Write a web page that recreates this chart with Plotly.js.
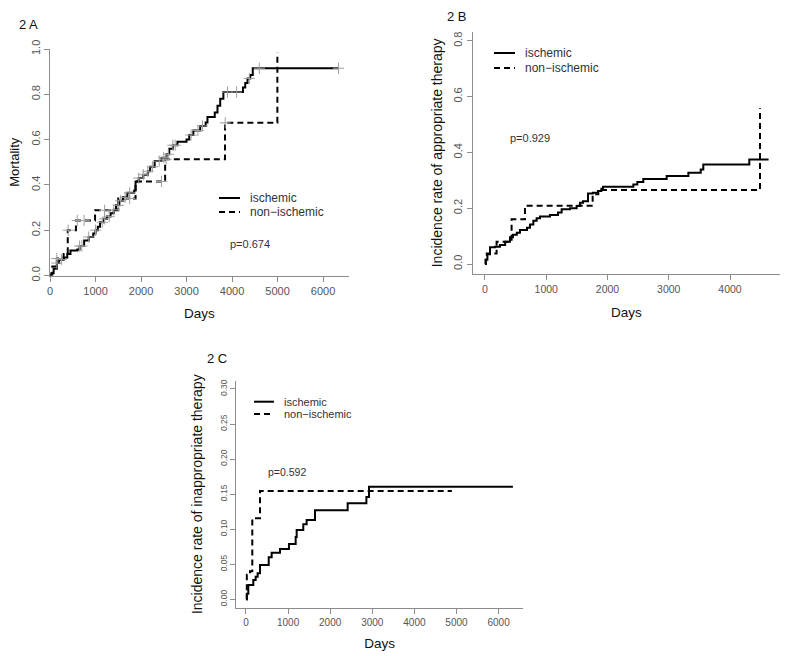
<!DOCTYPE html>
<html><head><meta charset="utf-8">
<script src="https://cdn.plot.ly/plotly-3.0.1.min.js"></script>
<style>html,body{margin:0;padding:0;background:#fff}#chart{width:799px;height:656px}</style>
</head><body><div id="chart"></div>
<script>
// ---------- Data ----------
// Panel 2A: Mortality (Kaplan-Meier style cumulative curves)
const aIschDays = [0, 30, 80, 150, 200, 300, 380, 450, 600, 650, 750, 850, 950, 1000, 1050, 1100, 1180, 1250, 1330, 1400, 1450, 1520, 1600, 1700, 1850, 1880, 1950, 2050, 2150, 2200, 2300, 2450, 2560, 2620, 2700, 2800, 3000, 3060, 3150, 3300, 3420, 3460, 3620, 3680, 3740, 3810, 4240, 4290, 4340, 4400, 4455, 6340];
const aIschVals = [0, 0.01, 0.03, 0.055, 0.07, 0.08, 0.095, 0.11, 0.115, 0.13, 0.155, 0.17, 0.185, 0.2, 0.215, 0.235, 0.25, 0.26, 0.275, 0.29, 0.31, 0.33, 0.345, 0.365, 0.375, 0.415, 0.43, 0.445, 0.46, 0.48, 0.505, 0.52, 0.535, 0.56, 0.575, 0.59, 0.6, 0.62, 0.64, 0.66, 0.675, 0.7, 0.72, 0.75, 0.78, 0.81, 0.83, 0.85, 0.87, 0.885, 0.915, 0.915];
const aNonDays = [0, 50, 150, 300, 390, 570, 990, 1500, 1880, 2530, 3846, 4996];
const aNonVals = [0, 0.04, 0.075, 0.095, 0.2, 0.243, 0.288, 0.34, 0.415, 0.513, 0.674, 0.984];
// censoring times (+ marks)
const aIschCensor = [150, 250, 650, 700, 850, 1000, 1150, 1200, 1300, 1400, 1500, 1550, 1650, 1750, 1950, 2050, 2150, 2250, 2400, 2500, 2600, 2700, 2750, 3100, 3250, 3350, 3900, 4100, 4380, 4600, 6340];
const aNonCensor = [150, 400, 600, 750, 1200, 1750, 2450, 2550, 3850];

// Panel 2B: Incidence rate of appropriate therapy
const bIschDays = [0, 15, 40, 82, 163, 245, 330, 408, 457, 520, 571, 686, 735, 790, 844, 898, 1061, 1192, 1252, 1388, 1497, 1551, 1600, 1682, 1760, 1845, 1900, 1927, 2422, 2487, 2585, 2966, 3320, 3522, 3564, 4315, 4630];
const bIschVals = [0, 0.015, 0.035, 0.06, 0.062, 0.068, 0.08, 0.096, 0.105, 0.112, 0.122, 0.13, 0.142, 0.155, 0.164, 0.17, 0.176, 0.185, 0.196, 0.2, 0.208, 0.22, 0.225, 0.253, 0.255, 0.262, 0.27, 0.277, 0.285, 0.294, 0.305, 0.315, 0.327, 0.339, 0.357, 0.375, 0.375];
const bNonDays = [0, 10, 30, 190, 435, 653, 1758, 1850, 4490];
const bNonVals = [0, 0.02, 0.038, 0.08, 0.16, 0.209, 0.25, 0.265, 0.558];

// Panel 2C: Incidence rate of inappropriate therapy
const cIschDays = [0, 20, 55, 174, 230, 277, 333, 540, 610, 808, 1021, 1180, 1204, 1361, 1441, 1639, 2415, 2860, 2922, 6340];
const cIschVals = [0, 0.008, 0.0204, 0.0275, 0.032, 0.037, 0.049, 0.06, 0.0665, 0.0718, 0.079, 0.089, 0.099, 0.107, 0.113, 0.127, 0.137, 0.146, 0.1606, 0.1606];
const cNonDays = [0, 20, 95, 150, 333, 4890];
const cNonVals = [0, 0.035, 0.04, 0.1155, 0.1545, 0.1545];

// Tick labels
const aXTicks = [0, 1000, 2000, 3000, 4000, 5000, 6000];
const aYTicks = [0, 0.2, 0.4, 0.6, 0.8, 1.0];
const aYTickText = ['0.0', '0.2', '0.4', '0.6', '0.8', '1.0'];
const bXTicks = [0, 1000, 2000, 3000, 4000];
const bYTicks = [0, 0.2, 0.4, 0.6, 0.8];
const bYTickText = ['0.0', '0.2', '0.4', '0.6', '0.8'];
const cXTicks = [0, 1000, 2000, 3000, 4000, 5000, 6000];
const cYTicks = [0, 0.05, 0.10, 0.15, 0.20, 0.25, 0.30];
const cYTickText = ['0.00', '0.05', '0.10', '0.15', '0.20', '0.25', '0.30'];

const seriesNames = ['ischemic', 'non\u2212ischemic'];
const panelLabels = ['2 A', '2 B', '2 C'];
const pValues = ['p=0.674', 'p=0.929', 'p=0.592'];
const yTitles = ['Mortality', 'Incidence rate of appropriate therapy', 'Incidence rate of inappropriate therapy'];

// ---------- Helpers ----------
const W = 799, H = 656;
const FONT = 'Liberation Sans, Arial, Helvetica, sans-serif';
const px = x => x / W;
const py = y => 1 - y / H;
function stepAt(days, vals, t) {
  let v = vals[0];
  for (let i = 0; i < days.length; i++) { if (days[i] <= t) v = vals[i]; }
  return v;
}
function curve(days, vals, dashed, xa, ya, name) {
  return {x: days, y: vals, xaxis: xa, yaxis: ya, type: 'scatter', mode: 'lines', name: name,
    line: {shape: 'hv', color: '#000', width: 2, dash: dashed ? '6px,4px' : 'solid'},
    showlegend: false, hoverinfo: 'x+y'};
}
function censor(times, days, vals, xa, ya) {
  return {x: times, y: times.map(t => stepAt(days, vals, t)), xaxis: xa, yaxis: ya,
    type: 'scatter', mode: 'markers', showlegend: false, hoverinfo: 'skip',
    marker: {symbol: 'cross-thin', size: 8, line: {color: '#a0a0a0', width: 1}}};
}

const traces = [
  curve(aIschDays, aIschVals, false, 'x', 'y', seriesNames[0]),
  curve(aNonDays, aNonVals, true, 'x', 'y', seriesNames[1]),
  censor(aIschCensor, aIschDays, aIschVals, 'x', 'y'),
  censor(aNonCensor, aNonDays, aNonVals, 'x', 'y'),
  curve(bIschDays, bIschVals, false, 'x2', 'y2', seriesNames[0]),
  curve(bNonDays, bNonVals, true, 'x2', 'y2', seriesNames[1]),
  curve(cIschDays, cIschVals, false, 'x3', 'y3', seriesNames[0]),
  curve(cNonDays, cNonVals, true, 'x3', 'y3', seriesNames[1])
];

function xAxis(domain, range, ticks, tickSize, standoff) {
  return {domain: domain, range: range, tickmode: 'array', tickvals: ticks, ticktext: ticks.map(String),
    showline: true, linecolor: '#8c8c8c', linewidth: 1, ticks: 'outside', ticklen: 5, tickcolor: '#8c8c8c',
    showgrid: false, zeroline: false, automargin: false, fixedrange: true,
    tickfont: {family: FONT, size: tickSize, color: '#555'},
    title: {text: 'Days', font: {family: FONT, size: 13.5, color: '#111'}, standoff: standoff}};
}
function yAxis(domain, range, ticks, text, tickSize, title, titleSize, anchor, standoff) {
  return {domain: domain, range: range, anchor: anchor, tickmode: 'array', tickvals: ticks, ticktext: text,
    tickangle: -90, showline: true, linecolor: '#8c8c8c', linewidth: 1, ticks: 'outside', ticklen: 5, tickcolor: '#8c8c8c',
    showgrid: false, zeroline: false, automargin: false, fixedrange: true,
    tickfont: {family: FONT, size: tickSize, color: '#555'},
    title: {text: title, font: {family: FONT, size: titleSize, color: '#111'}, standoff: standoff}};
}

const layout = {
  width: W, height: H, margin: {l: 0, r: 0, t: 0, b: 0},
  paper_bgcolor: '#fff', plot_bgcolor: '#fff', showlegend: false,
  font: {family: FONT},
  xaxis: Object.assign(xAxis([px(50), px(349)], [0, 6570], aXTicks, 11, 12), {anchor: 'y'}),
  yaxis: yAxis([py(275.5), py(49)], [0, 1.0], aYTicks, aYTickText, 11, yTitles[0], 13, 'x', 7),
  xaxis2: Object.assign(xAxis([px(472.7), px(780)], [-200, 4816], bXTicks, 10.5, 13), {anchor: 'y2'}),
  yaxis2: yAxis([py(274), py(31.7)], [-0.0358, 0.8326], bYTicks, bYTickText, 11, yTitles[1], 14, 'x2', 6),
  xaxis3: Object.assign(xAxis([px(236), px(523.3)], [-237, 6587], cXTicks, 10, 11), {anchor: 'y3'}),
  yaxis3: yAxis([py(607.7), py(380.7)], [-0.012, 0.3118], cYTicks, cYTickText, 8.5, yTitles[2], 14, 'x3', 12),
  shapes: [], annotations: []
};

function legend(x0, x1, y1, y2, textX, size) {
  layout.shapes.push({type: 'line', xref: 'paper', yref: 'paper', x0: px(x0), x1: px(x1), y0: py(y1), y1: py(y1), line: {color: '#000', width: 2}});
  layout.shapes.push({type: 'line', xref: 'paper', yref: 'paper', x0: px(x0), x1: px(x1), y0: py(y2), y1: py(y2), line: {color: '#000', width: 2, dash: '6px,4px'}});
  [[y1, seriesNames[0]], [y2, seriesNames[1]]].forEach(([yy, t]) => layout.annotations.push({
    xref: 'paper', yref: 'paper', x: px(textX), y: py(yy), xanchor: 'left', yanchor: 'middle', showarrow: false,
    text: t, font: {family: FONT, size: size, color: '#333'}}));
}
function label(x, y, text, size, color, anchor) {
  layout.annotations.push({xref: 'paper', yref: 'paper', x: px(x), y: py(y), xanchor: anchor || 'center', yanchor: 'middle',
    showarrow: false, text: text, font: {family: FONT, size: size, color: color}});
}
legend(219, 240, 198, 212, 248, 12);
legend(494, 515, 53, 68, 523, 12);
legend(254, 274, 401.7, 414, 282, 11);
label(250, 244, pValues[0], 11, '#333');
label(530, 138, pValues[1], 11, '#333');
label(287, 472.5, pValues[2], 10.5, '#333');
label(17, 25, panelLabels[0], 13, '#111', 'left');
label(445, 16, panelLabels[1], 13, '#111', 'left');
label(205, 358, panelLabels[2], 13, '#111', 'left');

Plotly.newPlot('chart', traces, layout, {displayModeBar: false, staticPlot: true});
</script>
</body></html>
